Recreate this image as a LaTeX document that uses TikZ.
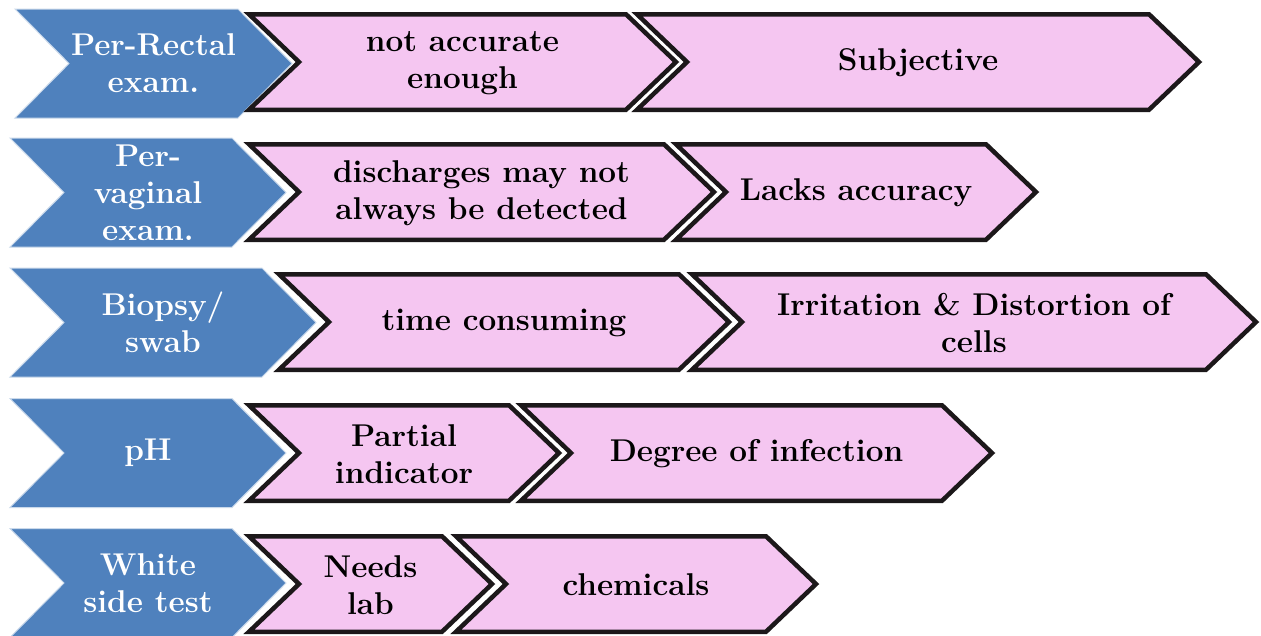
\documentclass[tikz,border=0pt]{standalone}
\usepackage{fontspec}
\definecolor{chevblue}{RGB}{79,129,189}
\definecolor{chevpink}{RGB}{245,198,241}
\definecolor{chevline}{RGB}{28,24,26}
\tikzset{
  bluebox/.style={fill=chevblue, draw=white!70!chevblue, line width=1pt, line join=miter},
  pinkbox/.style={fill=chevpink, draw=chevline, line width=4.5pt, line join=miter, miter limit=10},
  basetxt/.style={font=\fontsize{31.5}{37}\selectfont\bfseries, align=center, inner sep=0pt},
  bluetxt/.style={basetxt, text=white},
  pinktxt/.style={basetxt, text=black}
}
% #1 style, #2 xl, #3 xc, #4 yc, #5 half height, #6 depth
\newcommand\chevshape[6]{%
  \path[#1] ({#2+#6},#4) -- (#2,{#4-#5}) -- (#3,{#4-#5}) -- ({#3+#6},#4)
    -- (#3,{#4+#5}) -- (#2,{#4+#5}) -- cycle;}
% #1 name, #2 xl, #3 xc, #4 yc, #5 text
\newcommand\bluechev[5]{%
  \chevshape{bluebox}{#2}{#3}{#4}{54.5}{54}%
  \node[bluetxt] (#1) at ({(#2+54+#3)/2},#4) {#5};}
\newcommand\pinkchev[5]{%
  \chevshape{pinkbox}{#2}{#3}{#4}{47.75}{50}%
  \node[pinktxt] (#1) at ({(#2+50+#3)/2},#4+1) {#5};}
\begin{document}
\begin{tikzpicture}[x=1pt,y=-1pt]
\useasboundingbox[fill=white] (0,0) rectangle (1261,635);
% row 1
\bluechev{b1}{15}{238}{63.5}{Per-Rectal\\exam.}
\pinkchev{p11}{249}{626}{62}{not accurate\\enough}
\pinkchev{p12}{637}{1149}{62}{Subjective}
% row 2
\bluechev{b2}{10}{232}{192.5}{Per-\\vaginal\\exam.}
\pinkchev{p21}{249}{664}{192}{discharges may not\\always be detected}
\pinkchev{p22}{676}{986}{192}{Lacks accuracy}
% row 3
\bluechev{b3}{10}{262}{322.5}{Biopsy/\\swab}
\pinkchev{p31}{279}{679}{322}{time consuming}
\pinkchev{p32}{692}{1206}{322}{Irritation \& Distortion of\\cells}
% row 4
\bluechev{b4}{10}{232}{453}{pH}
\pinkchev{p41}{249}{509}{453}{Partial\\indicator}
\pinkchev{p42}{521}{942}{453}{Degree of infection}
% row 5
\bluechev{b5}{10}{232}{583}{White\\side test}
\pinkchev{p51}{249}{442}{584}{Needs\\lab}
\pinkchev{p52}{456}{766}{584}{chemicals}
\end{tikzpicture}
\end{document}
